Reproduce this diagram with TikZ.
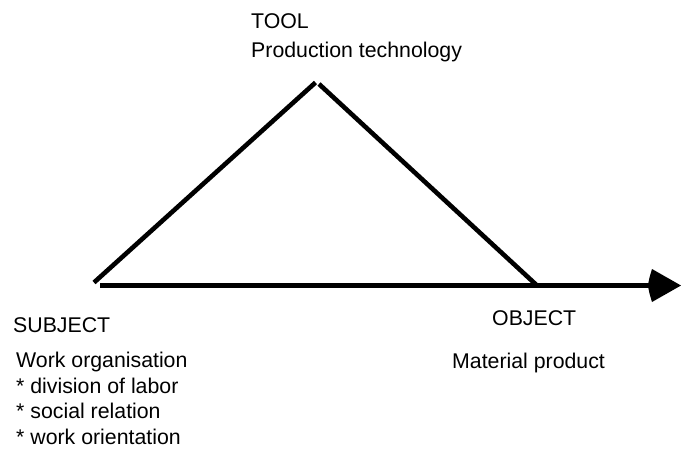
\documentclass[tikz,border=0pt]{standalone}
\usepackage{fontspec}
\setmainfont{Liberation Sans}
\begin{document}
\begin{tikzpicture}[x=1pt,y=-1pt,
  lbl/.style={inner sep=0pt,anchor=base west,font=\fontsize{21.3}{25.5}\selectfont},
  side/.style={line width=4.6pt,black}]
\useasboundingbox (0,0) rectangle (681,461);
% texts
\node[lbl] (tool) at (251,28) {TOOL};
\node[lbl] (tooltxt) at (251,57) {Production technology};
\node[lbl] (subject) at (13,332) {SUBJECT};
\node[lbl] (subj1) at (16,367.5) {Work organisation};
\node[lbl] (subj2) at (16,393) {* division of labor};
\node[lbl] (subj3) at (16,418.5) {* social relation};
\node[lbl] (subj4) at (16,444) {* work orientation};
\node[lbl] (object) at (492,325) {OBJECT};
\node[lbl] (objtxt) at (452,368) {Material product};
% geometry
\coordinate (sl) at (94,282.5);
\coordinate (apexL) at (315.5,82.5);
\coordinate (apexR) at (319,84);
\coordinate (sr) at (537,285.5);
\coordinate (h0) at (100,285.5);
\coordinate (hb) at (653,285.5);
\coordinate (tip) at (681,285.5);
\coordinate (at) at (652,269);
\coordinate (ab) at (652,302);
\coordinate (ac) at (647,285.5);
\draw[side] (sl) -- (apexL);
\draw[side] (apexR) -- (sr);
\draw[side] (h0) -- (hb);
\fill[black] (at) .. controls (ac) .. (ab) -- (tip) -- cycle;
\end{tikzpicture}
\end{document}
